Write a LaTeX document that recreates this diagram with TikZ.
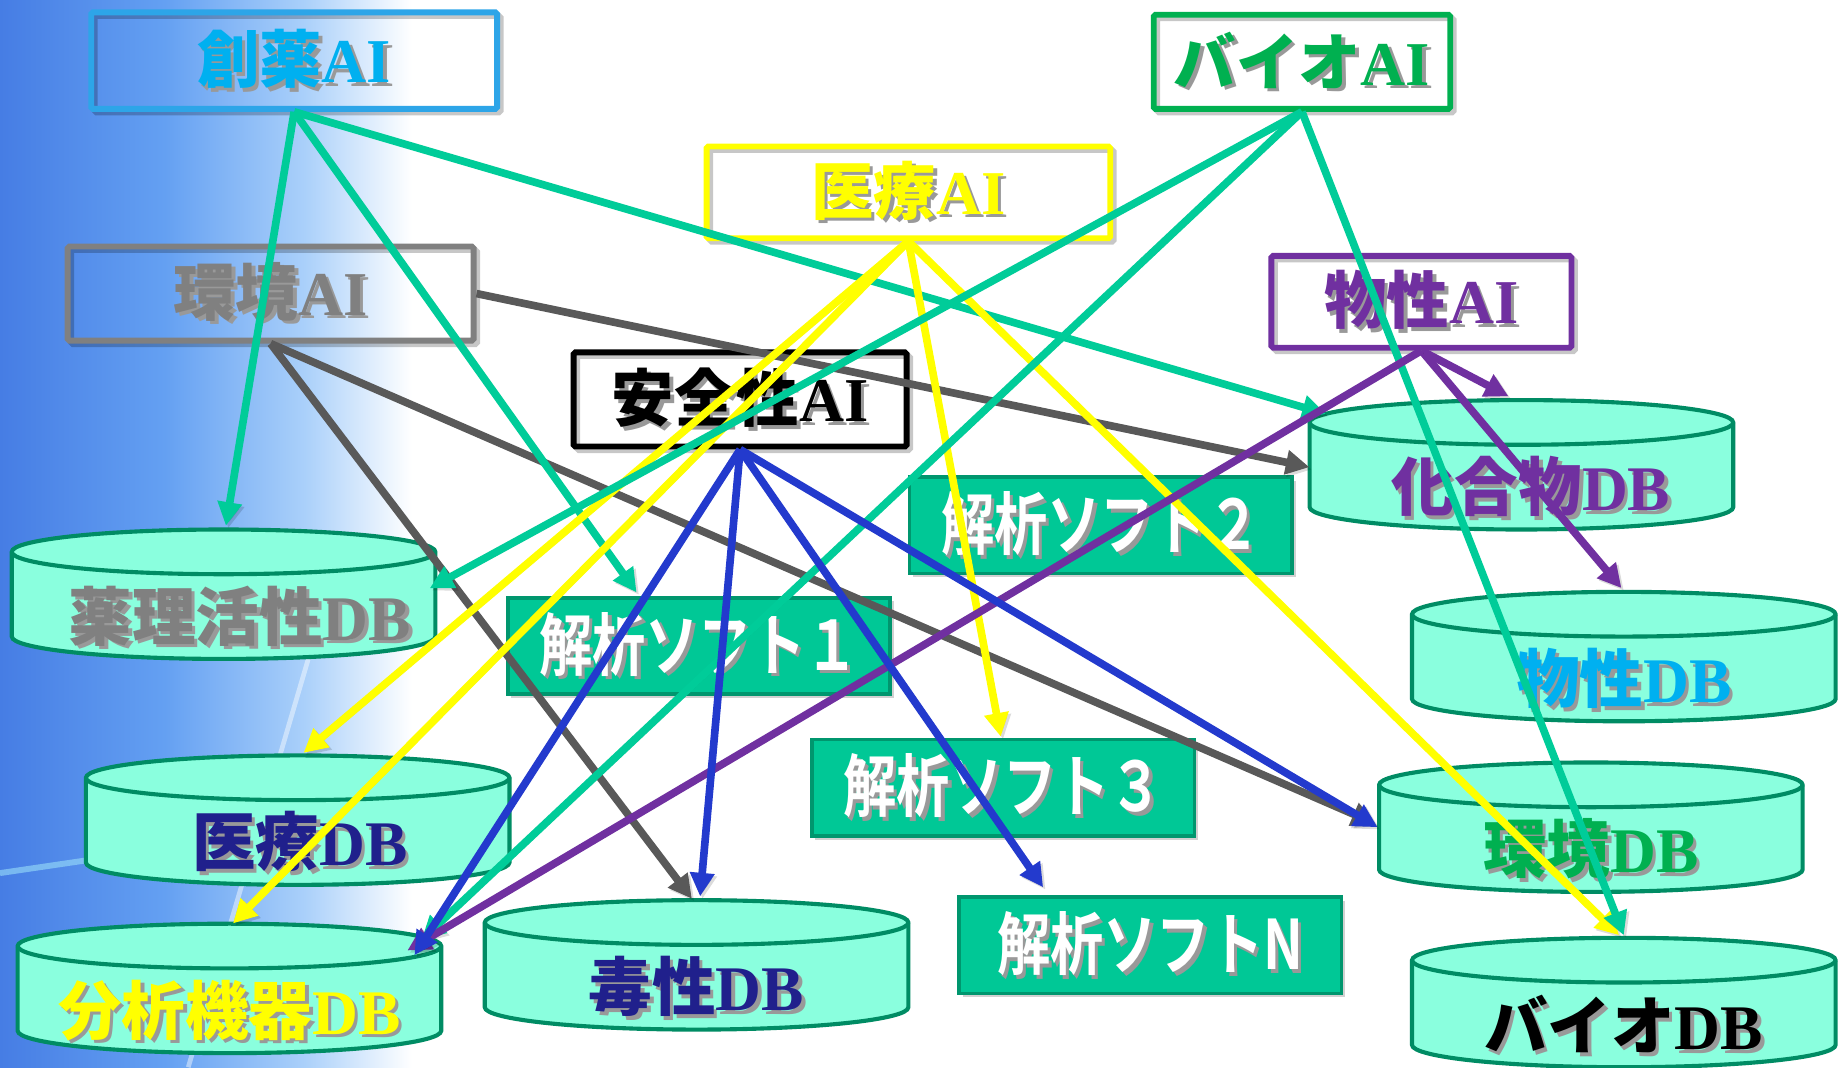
\documentclass[tikz,border=0pt]{standalone}
\usepackage{fontspec}
\setmainfont{Liberation Serif}
\newfontfamily\jpb{Noto Sans CJK JP Bold}
\newfontfamily\jpm{Noto Sans CJK JP Bold}[FakeStretch=0.78]
\usetikzlibrary{arrows.meta,calc}

\definecolor{cteal}{RGB}{0,204,153}
\definecolor{cyel}{RGB}{255,255,0}
\definecolor{cgray}{RGB}{89,89,89}
\definecolor{cpur}{RGB}{112,48,160}
\definecolor{cblue}{RGB}{35,58,205}
\definecolor{skyb}{RGB}{0,176,240}
\definecolor{skybd}{RGB}{45,165,232}
\definecolor{cgreen}{RGB}{0,176,80}
\definecolor{midgray}{RGB}{128,128,128}
\definecolor{cNavy}{RGB}{32,32,140}
\definecolor{softfill}{RGB}{0,200,150}
\definecolor{softdraw}{RGB}{0,150,110}
\definecolor{cylfill}{RGB}{138,255,222}
\definecolor{cyldraw}{RGB}{0,140,100}
\definecolor{bgA}{RGB}{70,125,228}
\definecolor{bgB}{RGB}{100,160,242}
\definecolor{bgC}{RGB}{170,208,250}

\pgfdeclarehorizontalshading{bgshade}{100bp}{color(0bp)=(bgA); color(25bp)=(bgA); color(45bp)=(bgB); color(62bp)=(bgC); color(75bp)=(white); color(100bp)=(white)}

\newcommand\shtxt[2]{\rlap{\kern3pt\raisebox{-3pt}{\color{black!40}#2}}{\color{#1}#2}}

\newcommand\dbcyl[6]{%
  \node[dbbox] (#1) at ({#2},{#3+36}) {};
  \filldraw[cyl] ({#2-180},{#3}) -- ({#2-180},{#3+72})
     arc[start angle=180,end angle=0,x radius=180,y radius=19]
     -- ({#2+180},{#3})
     arc[start angle=0,end angle=-180,x radius=180,y radius=19] -- cycle;
  \draw[cyl, fill=none] ({#2-180},{#3}) arc[start angle=180,end angle=0,x radius=180,y radius=19];
  \node[dblabel] at ({#2+#6},{#3+56}) {\shtxt{#4}{#5}};
}

\begin{document}
\begin{tikzpicture}[x=1pt,y=-1pt,
  aibox/.style={draw=#1, line width=5pt, inner sep=0pt, rounded corners=1.5pt,
     font=\fontsize{53}{53}\selectfont\bfseries,
     preaction={draw=black, opacity=.22, transform canvas={xshift=3pt,yshift=-3pt}}},
  softbox/.style={fill=softfill, draw=softdraw, line width=3pt, minimum width=325pt,
     minimum height=82pt, inner sep=0pt, font=\jpm\fontsize{58}{58}\selectfont,
     preaction={fill=black, opacity=.18, transform canvas={xshift=3pt,yshift=-3pt}}},
  dbbox/.style={inner sep=0pt, minimum width=360pt, minimum height=110pt},
  dblabel/.style={inner sep=0pt, font=\fontsize{54}{54}\selectfont\bfseries},
  cyl/.style={fill=cylfill, draw=cyldraw, line width=3.5pt},
  arr/.style={line width=6.5pt, -{Triangle[length=20pt,width=20pt]},
     preaction={draw=black, opacity=.14, transform canvas={xshift=2pt,yshift=-2pt}}}
]
\useasboundingbox (0,0) rectangle (1568,907);
\fill[white] (0,0) rectangle (1568,907);
\shade[shading=bgshade] (0,0) rectangle (350,907);
\draw[white, opacity=.45, line width=4pt] (262,560) -- (160,907);
\draw[cyan!40, opacity=.6, line width=5pt] (0,742) -- (95,728);

% AI boxes
\node[aibox=skybd, minimum width=345pt, minimum height=82pt] (souyaku) at (250,51.5) {\shtxt{skyb}{{\jpb 創薬}AI}};
\node[aibox=cgreen, minimum width=252pt, minimum height=80pt] (bioai) at (1106.5,52.5) {\shtxt{cgreen}{{\jpb バイオ}AI}};
\node[aibox=cyel, minimum width=343pt, minimum height=78pt] (iryoai) at (772,163.5) {\shtxt{cyel}{{\jpb 医療}AI}};
\node[aibox=midgray, minimum width=345pt, minimum height=80pt] (kankyoai) at (230,249.5) {\shtxt{midgray}{{\jpb 環境}AI}};
\node[aibox=cpur, minimum width=255pt, minimum height=78pt] (busseiai) at (1208,256.5) {\shtxt{cpur}{{\jpb 物性}AI}};
\node[aibox=black, minimum width=283pt, minimum height=80pt] (anzen) at (629,339.5) {\shtxt{black}{{\jpb 安全性}AI}};

% analysis software boxes
\node[softbox] (soft2) at (935.5,446.5) {\shtxt{white}{解析ソフト２}};
\node[softbox] (soft1) at (594,549) {\shtxt{white}{解析ソフト１}};
\node[softbox] (soft3) at (852.5,669.5) {\shtxt{white}{解析ソフト３}};
\node[softbox] (softN) at (977.5,803.5) {\shtxt{white}{解析ソフトN}};

% databases
\dbcyl{yakuri}{190}{469}{midgray}{{\jpb 薬理活性}DB}{14}
\dbcyl{iryodb}{253}{661}{cNavy}{{\jpb 医療}DB}{2}
\dbcyl{bunseki}{195}{804}{cyel}{{\jpb 分析機器}DB}{0}
\dbcyl{dokusei}{592}{784}{cNavy}{{\jpb 毒性}DB}{0}
\dbcyl{kagou}{1293}{359}{cpur}{{\jpb 化合物}DB}{8}
\dbcyl{busseidb}{1380}{522}{skyb}{{\jpb 物性}DB}{0}
\dbcyl{kankyodb}{1352}{667}{cgreen}{{\jpb 環境}DB}{0}
\dbcyl{biodb}{1380}{816}{black}{{\jpb バイオ}DB}{0}

% 環境AI (gray)
\draw[arr, cgray] (kankyoai.east) -- ($(kagou.west)+(0,2)$);
\draw[arr, cgray] (kankyoai.south) -- ($(dokusei.north)+(-4,-1)$);
\draw[arr, cgray] (kankyoai.south) -- ($(kankyodb.west)+(-3,-3)$);
% 創薬AI (teal)
\draw[arr, cteal] (souyaku.south) -- ($(yakuri.north)+(2,-3)$);
\draw[arr, cteal] (souyaku.south) -- ($(soft1.north west)+(111,-3)$);
\draw[arr, cteal] (souyaku.south) -- ($(kagou.north west)+(14,12)$);
% 医療AI (yellow)
\draw[arr, cyel] (iryoai.south) -- ($(iryodb.north)+(5,-2)$);
\draw[arr, cyel] (iryoai.south) -- ($(bunseki.north)+(3,0)$);
\draw[arr, cyel] (iryoai.south) -- ($(soft3.north)+(-2,-1)$);
\draw[arr, cyel] (iryoai.south) -- ($(biodb.north)+(-4,-2)$);
% バイオAI (teal)
\draw[arr, cteal] (bioai.south) -- ($(yakuri.east)+(-5,-5)$);
\draw[arr, cteal] (bioai.south) -- ($(bunseki.north east)+(-17,14)$);
\draw[arr, cteal] (bioai.south) -- ($(biodb.north)+(0,-2)$);
% 物性AI (purple)
\draw[arr, cpur] (busseiai.south) -- ($(kagou.north)+(-11,-3)$);
\draw[arr, cpur] (busseiai.south) -- ($(busseidb.north)+(-2,-3)$);
\draw[arr, cpur] (busseiai.south) -- ($(bunseki.north east)+(-29,23)$);
% 安全性AI (blue)
\draw[arr, cblue] (anzen.south) -- ($(bunseki.north east)+(-23,27)$);
\draw[arr, cblue] (anzen.south) -- ($(dokusei.north)+(3,-3)$);
\draw[arr, cblue] (anzen.south) -- ($(softN.north west)+(73,-7)$);
\draw[arr, cblue] (anzen.south) -- ($(kankyodb.west)+(-1,0)$);
\end{tikzpicture}
\end{document}
